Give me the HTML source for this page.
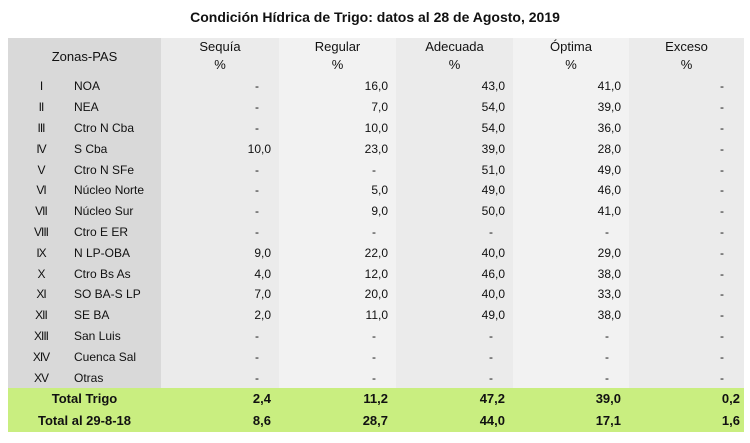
<!DOCTYPE html>
<html><head><meta charset="utf-8"><style>
body{margin:0;width:750px;height:443px;background:#fff;font-family:"Liberation Sans",sans-serif;color:#111;position:relative;overflow:hidden}
.t{position:absolute;top:9px;left:0;width:750px;text-align:center;font-weight:bold;font-size:14px}
table{position:absolute;left:8px;top:38px;border-collapse:collapse;table-layout:fixed;font-size:12px}
td{padding:0;white-space:nowrap;overflow:hidden}
.h td{height:38px;text-align:center;vertical-align:top;font-size:13px;line-height:18px}
.h td div{height:38px;overflow:hidden}
.r td{height:20.8px;line-height:14px}
.z{background:#d9d9d9}
.a{background:#ebebeb}.b{background:#f2f2f2}
.n{text-align:right;padding-right:8px}
.d{text-align:right;padding-right:20px}
.g td{background:#c9ee80;height:22px;font-weight:bold;font-size:13px;line-height:15px}
.rn{display:inline-block;width:66px;text-align:center;letter-spacing:-1px}
</style></head><body>
<div class="t">Condición Hídrica de Trigo: datos al 28 de Agosto, 2019</div>
<table>
<colgroup><col style="width:153px"><col style="width:118px"><col style="width:117px"><col style="width:117px"><col style="width:116px"><col style="width:115px"></colgroup>
<tr class="h"><td class="z"><div style="padding-top:10px;height:28px">Zonas-PAS</div></td><td class="a"><div>Sequía<br>%</div></td><td class="b"><div>Regular<br>%</div></td><td class="a"><div>Adecuada<br>%</div></td><td class="b"><div>Óptima<br>%</div></td><td class="a"><div>Exceso<br>%</div></td></tr>
<tr class="r"><td class="z"><span class="rn">I</span>NOA</td><td class="a d">-</td><td class="b n">16,0</td><td class="a n">43,0</td><td class="b n">41,0</td><td class="a d">-</td></tr>
<tr class="r"><td class="z"><span class="rn">II</span>NEA</td><td class="a d">-</td><td class="b n">7,0</td><td class="a n">54,0</td><td class="b n">39,0</td><td class="a d">-</td></tr>
<tr class="r"><td class="z"><span class="rn">III</span>Ctro N Cba</td><td class="a d">-</td><td class="b n">10,0</td><td class="a n">54,0</td><td class="b n">36,0</td><td class="a d">-</td></tr>
<tr class="r"><td class="z"><span class="rn">IV</span>S Cba</td><td class="a n">10,0</td><td class="b n">23,0</td><td class="a n">39,0</td><td class="b n">28,0</td><td class="a d">-</td></tr>
<tr class="r"><td class="z"><span class="rn">V</span>Ctro N SFe</td><td class="a d">-</td><td class="b d">-</td><td class="a n">51,0</td><td class="b n">49,0</td><td class="a d">-</td></tr>
<tr class="r"><td class="z"><span class="rn">VI</span>Núcleo Norte</td><td class="a d">-</td><td class="b n">5,0</td><td class="a n">49,0</td><td class="b n">46,0</td><td class="a d">-</td></tr>
<tr class="r"><td class="z"><span class="rn">VII</span>Núcleo Sur</td><td class="a d">-</td><td class="b n">9,0</td><td class="a n">50,0</td><td class="b n">41,0</td><td class="a d">-</td></tr>
<tr class="r"><td class="z"><span class="rn">VIII</span>Ctro E ER</td><td class="a d">-</td><td class="b d">-</td><td class="a d">-</td><td class="b d">-</td><td class="a d">-</td></tr>
<tr class="r"><td class="z"><span class="rn">IX</span>N LP-OBA</td><td class="a n">9,0</td><td class="b n">22,0</td><td class="a n">40,0</td><td class="b n">29,0</td><td class="a d">-</td></tr>
<tr class="r"><td class="z"><span class="rn">X</span>Ctro Bs As</td><td class="a n">4,0</td><td class="b n">12,0</td><td class="a n">46,0</td><td class="b n">38,0</td><td class="a d">-</td></tr>
<tr class="r"><td class="z"><span class="rn">XI</span>SO BA-S LP</td><td class="a n">7,0</td><td class="b n">20,0</td><td class="a n">40,0</td><td class="b n">33,0</td><td class="a d">-</td></tr>
<tr class="r"><td class="z"><span class="rn">XII</span>SE BA</td><td class="a n">2,0</td><td class="b n">11,0</td><td class="a n">49,0</td><td class="b n">38,0</td><td class="a d">-</td></tr>
<tr class="r"><td class="z"><span class="rn">XIII</span>San Luis</td><td class="a d">-</td><td class="b d">-</td><td class="a d">-</td><td class="b d">-</td><td class="a d">-</td></tr>
<tr class="r"><td class="z"><span class="rn">XIV</span>Cuenca Sal</td><td class="a d">-</td><td class="b d">-</td><td class="a d">-</td><td class="b d">-</td><td class="a d">-</td></tr>
<tr class="r"><td class="z"><span class="rn">XV</span>Otras</td><td class="a d">-</td><td class="b d">-</td><td class="a d">-</td><td class="b d">-</td><td class="a d">-</td></tr>
<tr class="g"><td style="text-align:center">Total Trigo</td><td class="n">2,4</td><td class="n">11,2</td><td class="n">47,2</td><td class="n">39,0</td><td class="n" style="padding-right:4px">0,2</td></tr>
<tr class="g"><td style="text-align:center">Total al 29-8-18</td><td class="n">8,6</td><td class="n">28,7</td><td class="n">44,0</td><td class="n">17,1</td><td class="n" style="padding-right:4px">1,6</td></tr>
</table>
</body></html>
